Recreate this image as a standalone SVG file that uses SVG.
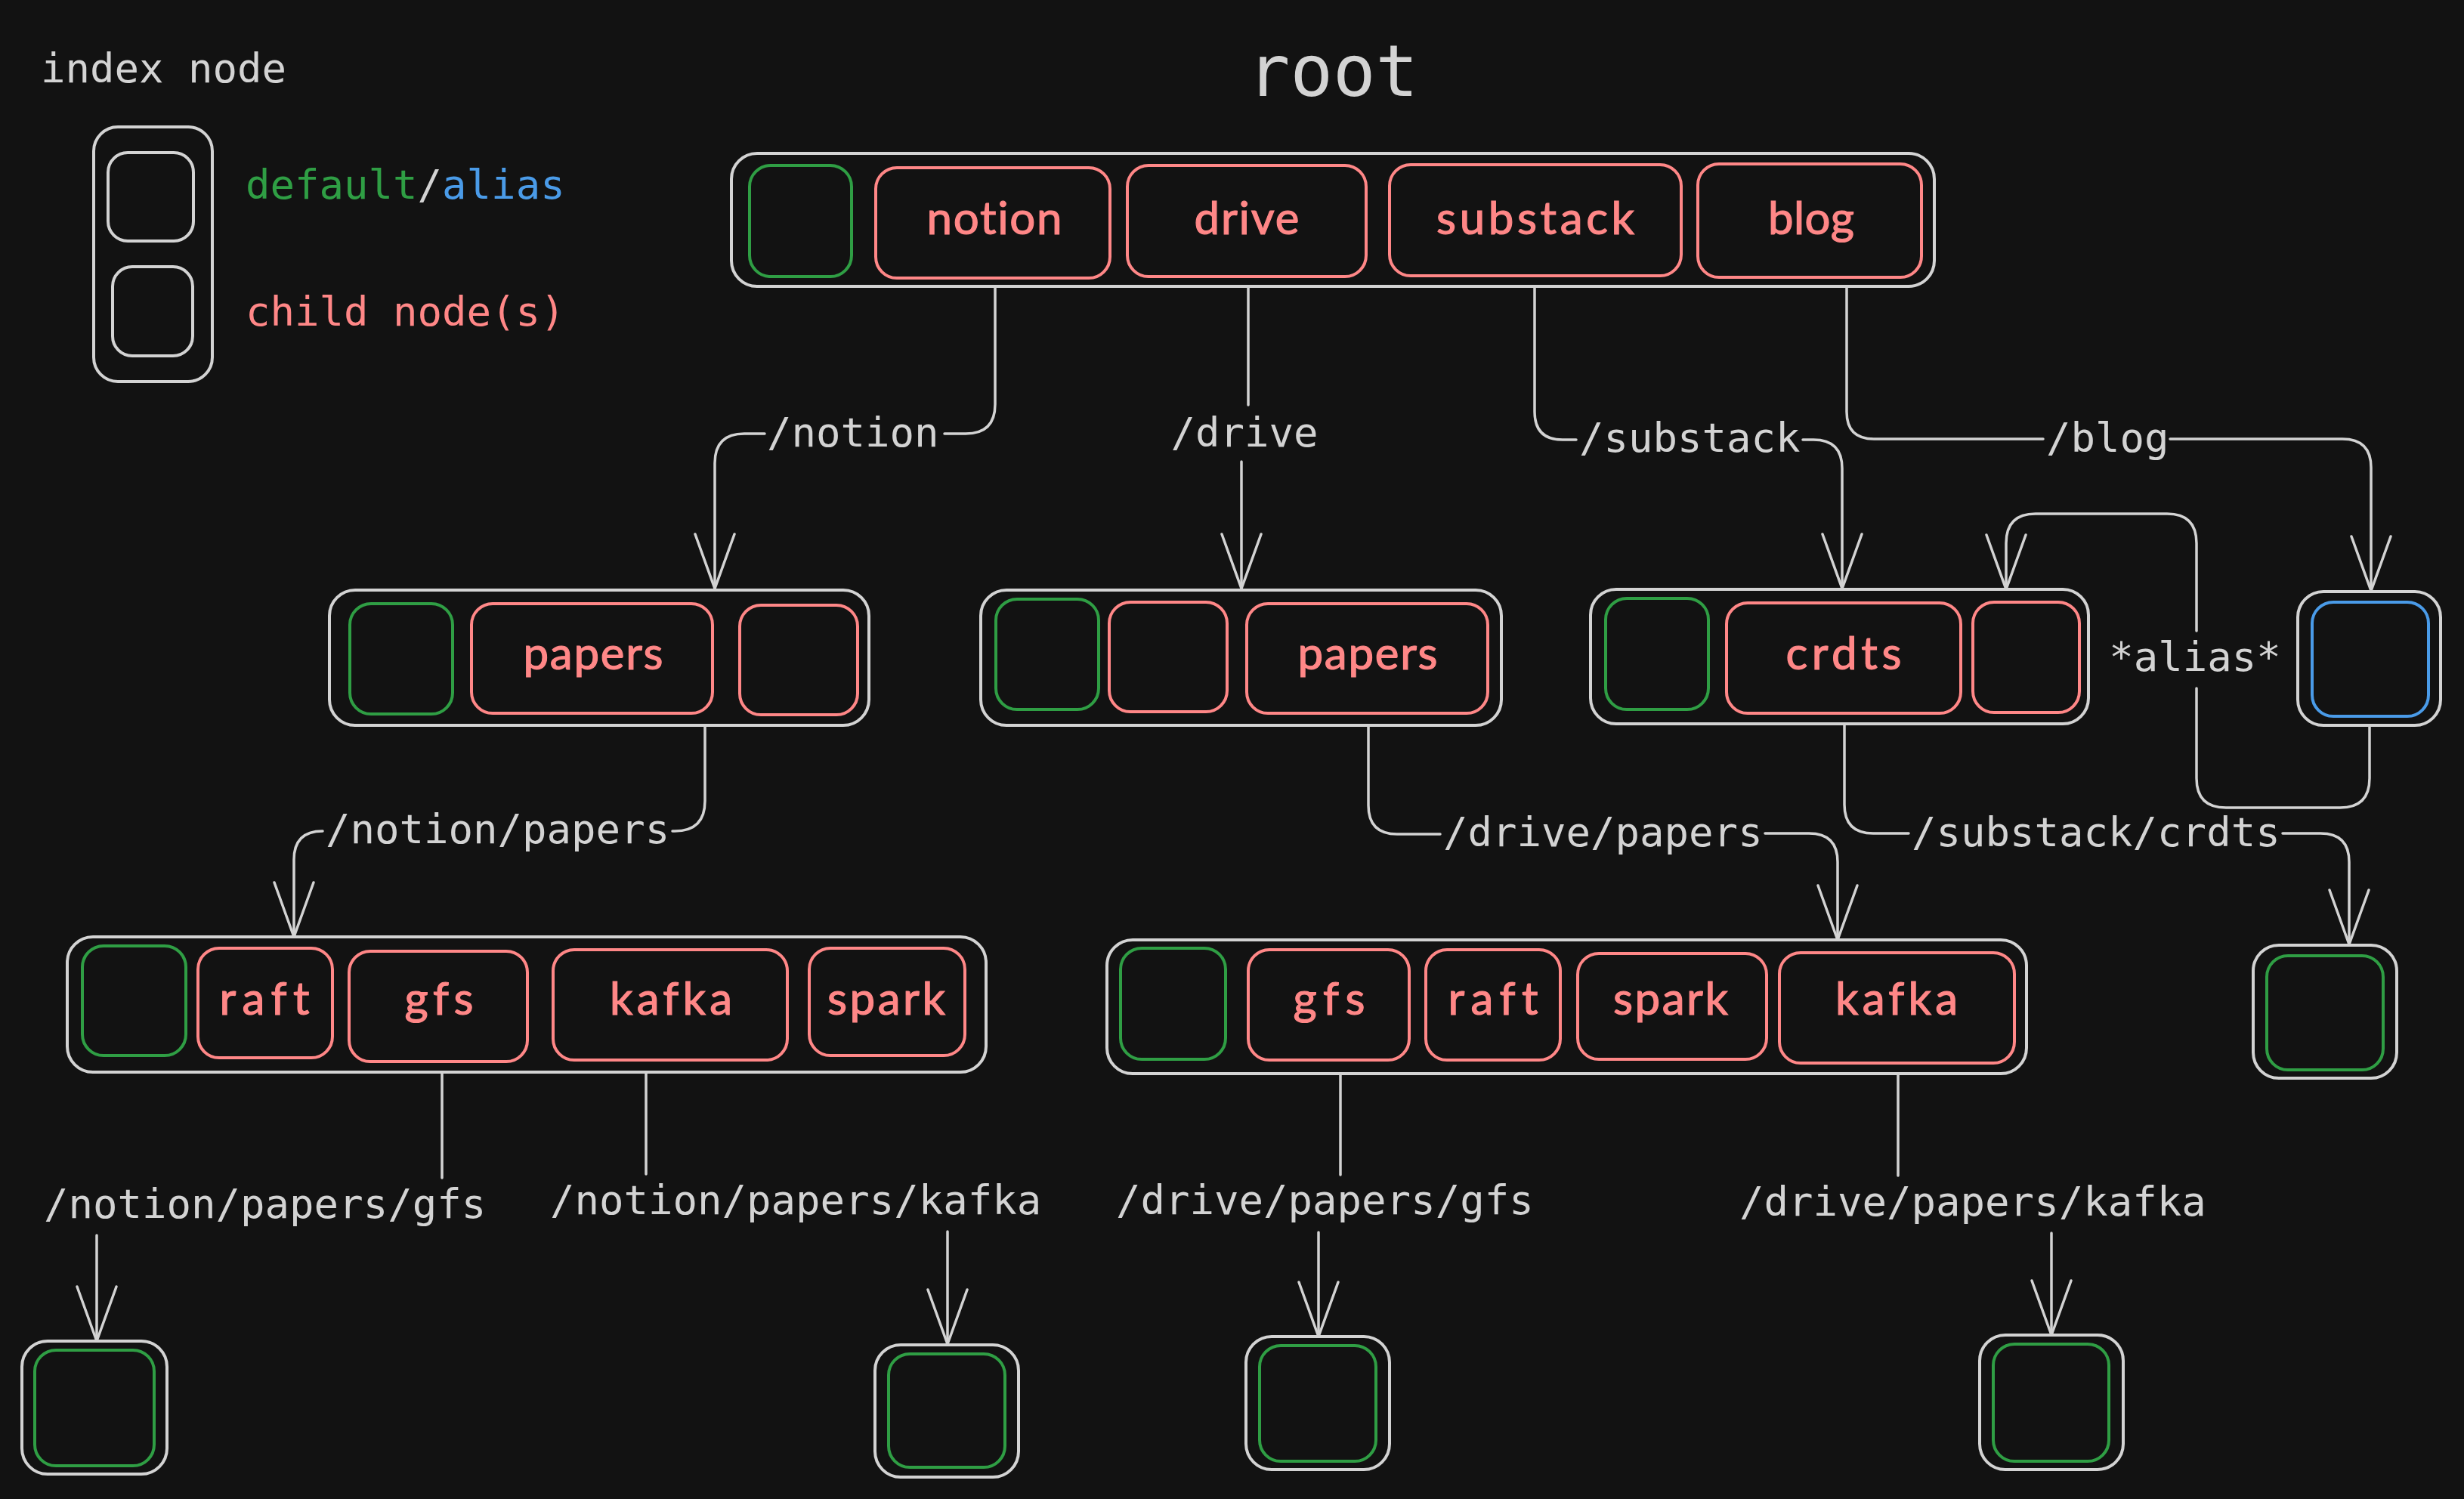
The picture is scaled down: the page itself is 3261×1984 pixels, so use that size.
<svg xmlns="http://www.w3.org/2000/svg" width="3261" height="1984" viewBox="0 0 3261 1984">
<defs>
<style>
.o{fill:none;stroke:#d3d3d3;stroke-width:4}
.g{fill:none;stroke:#2f9e44;stroke-width:4}
.r{fill:none;stroke:#ff8787;stroke-width:4}
.b{fill:none;stroke:#4a9be8;stroke-width:4}
.c{fill:none;stroke:#d3d3d3;stroke-width:3.5;stroke-linecap:round;stroke-linejoin:round}
.lbl{font-family:"DejaVu Sans Mono","Liberation Mono",monospace;font-size:54px;fill:#d3d3d3}
.nt{font-family:"Lato","Open Sans",sans-serif;font-size:60px;fill:#ff8787;stroke:#ff8787;stroke-width:1.2;text-anchor:middle;font-variant-ligatures:none;font-feature-settings:"liga" 0}
</style>
<marker id="ah" markerUnits="userSpaceOnUse" viewBox="-80 -32 84 64" markerWidth="84" markerHeight="64" refX="0" refY="0" orient="auto">
<path d="M-72,-26 L0,0 L-72,26" fill="none" stroke="#d3d3d3" stroke-width="3.5" stroke-linecap="round" stroke-linejoin="round"/>
</marker>
</defs>
<rect width="3261" height="1984" fill="#121212"/>

<g id="legend">
<text class="lbl" x="54" y="109">index node</text>
<rect class="o" x="124" y="168" width="157" height="337" rx="32"/>
<rect class="o" x="143" y="202" width="113" height="117" rx="26"/>
<rect class="o" x="149" y="353" width="106" height="118" rx="26"/>
<text class="lbl" x="325" y="263"><tspan fill="#2f9e44">default</tspan><tspan fill="#d3d3d3">/</tspan><tspan fill="#4a9be8">alias</tspan></text>
<text class="lbl" x="325" y="431" style="fill:#ff8787">child node(s)</text>
</g>

<text id="title" x="1764" y="127" text-anchor="middle" style="font-family:'DejaVu Sans Mono','Liberation Mono',monospace;font-size:94px;fill:#d3d3d3">root</text>

<g id="node-root">
<rect class="o" x="968" y="203" width="1592" height="176" rx="34"/>
<rect class="g" x="992" y="219" width="135" height="147" rx="28"/>
<rect class="r" x="1159" y="222" width="310" height="146" rx="28"/>
<rect class="r" x="1492" y="219" width="316" height="147" rx="28"/>
<rect class="r" x="1839" y="218" width="386" height="147" rx="28"/>
<rect class="r" x="2247" y="217" width="296" height="150" rx="28"/>
<text class="nt" x="1316" y="310" textLength="179">notion</text>
<text class="nt" x="1650" y="310" textLength="139">drive</text>
<text class="nt" x="2032" y="310" textLength="262">substack</text>
<text class="nt" x="2397" y="310" textLength="114">blog</text>
</g>

<g id="node-notion">
<rect class="o" x="436" y="781" width="714" height="179" rx="34"/>
<rect class="g" x="463" y="799" width="136" height="146" rx="28"/>
<rect class="r" x="624" y="799" width="319" height="145" rx="28"/>
<rect class="r" x="979" y="801" width="156" height="145" rx="28"/>
<text class="nt" x="785" y="886" textLength="185">papers</text>
</g>

<g id="node-drive">
<rect class="o" x="1298" y="781" width="689" height="179" rx="34"/>
<rect class="g" x="1318" y="793" width="136" height="146" rx="28"/>
<rect class="r" x="1468" y="797" width="156" height="145" rx="28"/>
<rect class="r" x="1650" y="799" width="319" height="145" rx="28"/>
<text class="nt" x="1810" y="886" textLength="185">papers</text>
</g>

<g id="node-substack">
<rect class="o" x="2105" y="780" width="659" height="178" rx="34"/>
<rect class="g" x="2125" y="792" width="136" height="147" rx="28"/>
<rect class="r" x="2285" y="798" width="310" height="146" rx="28"/>
<rect class="r" x="2611" y="797" width="141" height="146" rx="28"/>
<text class="nt" x="2440" y="886" textLength="153">crdts</text>
</g>

<g id="node-blog">
<rect class="o" x="3041" y="783" width="189" height="177" rx="34"/>
<rect class="b" x="3060" y="797" width="154" height="151" rx="28"/>
</g>

<g id="node-notion-papers">
<rect class="o" x="89" y="1240" width="1216" height="179" rx="34"/>
<rect class="g" x="109" y="1252" width="137" height="145" rx="28"/>
<rect class="r" x="262" y="1255" width="178" height="145" rx="28"/>
<rect class="r" x="462" y="1259" width="236" height="146" rx="28"/>
<rect class="r" x="732" y="1257" width="310" height="146" rx="28"/>
<rect class="r" x="1071" y="1255" width="206" height="142" rx="28"/>
<text class="nt" x="350" y="1343" textLength="119">raft</text>
<text class="nt" x="581" y="1343" textLength="91">gfs</text>
<text class="nt" x="888" y="1343" textLength="162">kafka</text>
<text class="nt" x="1173" y="1343" textLength="156">spark</text>
</g>

<g id="node-drive-papers">
<rect class="o" x="1465" y="1244" width="1217" height="177" rx="34"/>
<rect class="g" x="1483" y="1255" width="139" height="147" rx="28"/>
<rect class="r" x="1652" y="1257" width="213" height="146" rx="28"/>
<rect class="r" x="1887" y="1257" width="178" height="146" rx="28"/>
<rect class="r" x="2088" y="1262" width="250" height="140" rx="28"/>
<rect class="r" x="2355" y="1261" width="311" height="146" rx="28"/>
<text class="nt" x="1759" y="1343" textLength="95">gfs</text>
<text class="nt" x="1976" y="1343" textLength="119">raft</text>
<text class="nt" x="2211" y="1343" textLength="152">spark</text>
<text class="nt" x="2510" y="1343" textLength="162">kafka</text>
</g>

<g id="node-substack-crdts">
<rect class="o" x="2982" y="1251" width="190" height="176" rx="34"/>
<rect class="g" x="3000" y="1265" width="154" height="151" rx="28"/>
</g>

<g id="node-notion-papers-gfs">
<rect class="o" x="29" y="1775" width="192" height="176" rx="34"/>
<rect class="g" x="46" y="1787" width="158" height="153" rx="28"/>
</g>
<g id="node-notion-papers-kafka">
<rect class="o" x="1158" y="1780" width="190" height="175" rx="34"/>
<rect class="g" x="1176" y="1792" width="154" height="150" rx="28"/>
</g>
<g id="node-drive-papers-gfs">
<rect class="o" x="1649" y="1769" width="190" height="176" rx="34"/>
<rect class="g" x="1667" y="1781" width="154" height="153" rx="28"/>
</g>
<g id="node-drive-papers-kafka">
<rect class="o" x="2620" y="1767" width="190" height="178" rx="34"/>
<rect class="g" x="2638" y="1779" width="153" height="155" rx="28"/>
</g>

<g id="connectors">
<path class="c" d="M1317 380 V535 Q1317 574 1278 574 H1250"/>
<path class="c" d="M1012 574 H985 Q946 574 946 613 V779" marker-end="url(#ah)"/>
<text class="lbl" x="1015" y="591">/notion</text>

<path class="c" d="M1652 380 V536"/>
<path class="c" d="M1643 611 V779" marker-end="url(#ah)"/>
<text class="lbl" x="1647" y="591" text-anchor="middle">/drive</text>

<path class="c" d="M2031 380 V545 Q2031 582 2068 582 H2086"/>
<path class="c" d="M2386 582 H2400 Q2438 582 2438 620 V779" marker-end="url(#ah)"/>
<text class="lbl" x="2090" y="598">/substack</text>

<path class="c" d="M2444 380 V545 Q2444 581 2480 581 H2704"/>
<path class="c" d="M2872 581 H3100 Q3138 581 3138 619 V782" marker-end="url(#ah)"/>
<text class="lbl" x="2708" y="598">/blog</text>

<path class="c" d="M3136 962 V1030 Q3136 1069 3097 1069 H2946 Q2907 1069 2907 1030 V911"/>
<path class="c" d="M2907 835 V719 Q2907 680 2868 680 H2694 Q2655 680 2655 719 V780" marker-end="url(#ah)"/>
<text class="lbl" x="2905" y="888" text-anchor="middle">*alias*</text>

<path class="c" d="M933 960 V1060 Q933 1100 893 1100 H890"/>
<path class="c" d="M427 1100 Q389 1100 389 1138 V1240" marker-end="url(#ah)"/>
<text class="lbl" x="431" y="1116">/notion/papers</text>

<path class="c" d="M1811 960 V1066 Q1811 1104 1849 1104 H1906"/>
<path class="c" d="M2336 1103 H2394 Q2432 1103 2432 1141 V1244" marker-end="url(#ah)"/>
<text class="lbl" x="1910" y="1120">/drive/papers</text>

<path class="c" d="M2441 958 V1065 Q2441 1103 2479 1103 H2526"/>
<path class="c" d="M3021 1103 H3071 Q3109 1103 3109 1141 V1250" marker-end="url(#ah)"/>
<text class="lbl" x="2530" y="1120">/substack/crdts</text>

<path class="c" d="M585 1419 V1559"/>
<path class="c" d="M128 1635 V1775" marker-end="url(#ah)"/>
<text class="lbl" x="58" y="1612">/notion/papers/gfs</text>

<path class="c" d="M855 1419 V1554"/>
<path class="c" d="M1254 1630 V1779" marker-end="url(#ah)"/>
<text class="lbl" x="728" y="1607">/notion/papers/kafka</text>

<path class="c" d="M1774 1421 V1555"/>
<path class="c" d="M1745 1631 V1769" marker-end="url(#ah)"/>
<text class="lbl" x="1477" y="1607">/drive/papers/gfs</text>

<path class="c" d="M2512 1421 V1556"/>
<path class="c" d="M2715 1632 V1767" marker-end="url(#ah)"/>
<text class="lbl" x="2302" y="1609">/drive/papers/kafka</text>
</g>
</svg>
